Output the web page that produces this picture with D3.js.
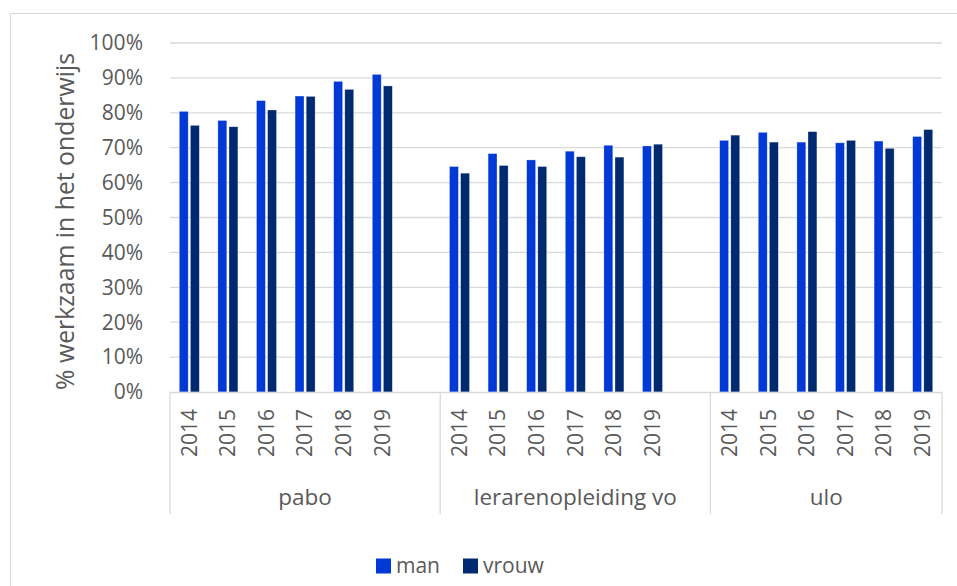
<!DOCTYPE html>
<html>
<head>
<meta charset="utf-8">
<script src="https://cdn.jsdelivr.net/npm/d3@7"></script>
<style>
  body { margin: 0; background: #fff; }
  text { font-family: "Open Sans", "Noto Sans", sans-serif; fill: #595959; }
</style>
</head>
<body>
<svg id="canvas"></svg>
<script>
const width = 957;
const height = 586;

const groups = ["pabo", "lerarenopleiding vo", "ulo"];
const years = ["2014", "2015", "2016", "2017", "2018", "2019"];
const series = ["man", "vrouw"];
const colors = ["#0039d6", "#002a70"];

// % werkzaam, per groep per jaar
const man = [
  [80.4, 77.8, 83.5, 84.8, 89.0, 91.0],
  [64.6, 68.3, 66.5, 69.0, 70.7, 70.5],
  [72.1, 74.4, 71.6, 71.4, 71.9, 73.2]
];
const vrouw = [
  [76.4, 76.0, 80.8, 84.7, 86.7, 87.7],
  [62.7, 64.9, 64.6, 67.4, 67.3, 71.0],
  [73.6, 71.6, 74.6, 72.1, 69.8, 75.2]
];
const yTicks = [0, 10, 20, 30, 40, 50, 60, 70, 80, 90, 100];

const svg = d3.select("#canvas")
  .attr("width", width)
  .attr("height", height);

// chart frame
svg.append("rect")
  .attr("x", 10.5).attr("y", 13.5)
  .attr("width", 950).attr("height", 600)
  .attr("fill", "none").attr("stroke", "#d9d9d9");

const plotLeft = 170, plotRight = 942, plotTop = 43, plotBottom = 392;

// slots: 6 years per group, with one blank slot after each group but the last
const slots = [];
groups.forEach((g, gi) => {
  years.forEach(y => slots.push(g + "|" + y));
  if (gi < groups.length - 1) slots.push("blank" + gi);
});

const x = d3.scaleBand().domain(slots).range([plotLeft, plotRight]);
const xs = d3.scaleBand().domain(series)
  .range([x.bandwidth() / 2 - 10, x.bandwidth() / 2 + 10])
  .paddingInner(0.2);
const y = d3.scaleLinear().domain([0, 100]).range([plotBottom, plotTop]);

// gridlines
svg.append("g").selectAll("line")
  .data(yTicks.slice(1))
  .join("line")
  .attr("x1", plotLeft).attr("x2", plotRight)
  .attr("y1", d => y(d)).attr("y2", d => y(d))
  .attr("stroke", "#d9d9d9").attr("stroke-width", 1.3);

// y axis labels
svg.append("g").selectAll("text")
  .data(yTicks)
  .join("text")
  .attr("x", 143).attr("y", d => y(d))
  .attr("dy", "0.35em")
  .attr("text-anchor", "end")
  .style("font-size", "21px")
  .text(d => d + "%");

svg.append("text")
  .attr("transform", `translate(74,${(plotTop + plotBottom) / 2 + 4}) rotate(-90)`)
  .attr("text-anchor", "middle")
  .style("font-size", "24.8px")
  .text("% werkzaam in het onderwijs");

// bars
const rows = [];
groups.forEach((g, gi) => {
  years.forEach((yr, yi) => {
    rows.push({ key: g + "|" + yr, s: "man", v: man[gi][yi] });
    rows.push({ key: g + "|" + yr, s: "vrouw", v: vrouw[gi][yi] });
  });
});

svg.append("g").selectAll("rect")
  .data(rows)
  .join("rect")
  .attr("x", d => x(d.key) + xs(d.s))
  .attr("width", xs.bandwidth())
  .attr("y", d => y(d.v))
  .attr("height", d => y(0) - y(d.v))
  .attr("fill", d => colors[series.indexOf(d.s)])
  .attr("stroke", "rgba(255,255,255,0.45)")
  .attr("stroke-width", 0.6);

// category axis
svg.append("line")
  .attr("x1", plotLeft).attr("x2", plotRight)
  .attr("y1", plotBottom + 0.5).attr("y2", plotBottom + 0.5)
  .attr("stroke", "#d9d9d9").attr("stroke-width", 1.3);

const seps = [plotLeft, x("blank0") + x.bandwidth(), x("blank1") + x.bandwidth(), plotRight];
svg.append("g").selectAll("line")
  .data(seps)
  .join("line")
  .attr("x1", d => d).attr("x2", d => d)
  .attr("y1", plotBottom).attr("y2", 514)
  .attr("stroke", "#d9d9d9").attr("stroke-width", 1.3);

svg.append("g").selectAll("text")
  .data(slots.filter(s => !s.startsWith("blank")))
  .join("text")
  .attr("transform", d => `translate(${x(d) + x.bandwidth() / 2},${plotBottom + 17}) rotate(-90)`)
  .attr("dy", "0.35em")
  .attr("text-anchor", "end")
  .style("font-size", "21px")
  .text(d => d.split("|")[1]);

svg.append("g").selectAll("text")
  .data(groups)
  .join("text")
  .attr("x", (d, i) => (seps[i] + seps[i + 1]) / 2)
  .attr("y", 505)
  .attr("text-anchor", "middle")
  .style("font-size", "22.5px")
  .text(d => d);

// legend
const legend = svg.append("g").attr("transform", "translate(376,566)");
const lx = [0, 87];
series.forEach((s, i) => {
  legend.append("rect")
    .attr("x", lx[i]).attr("y", -7.5)
    .attr("width", 15).attr("height", 15)
    .attr("fill", colors[i]);
  legend.append("text")
    .attr("x", lx[i] + 20).attr("y", 0)
    .attr("dy", "0.35em")
    .style("font-size", "21px")
    .text(s);
});
</script>
</body>
</html>
